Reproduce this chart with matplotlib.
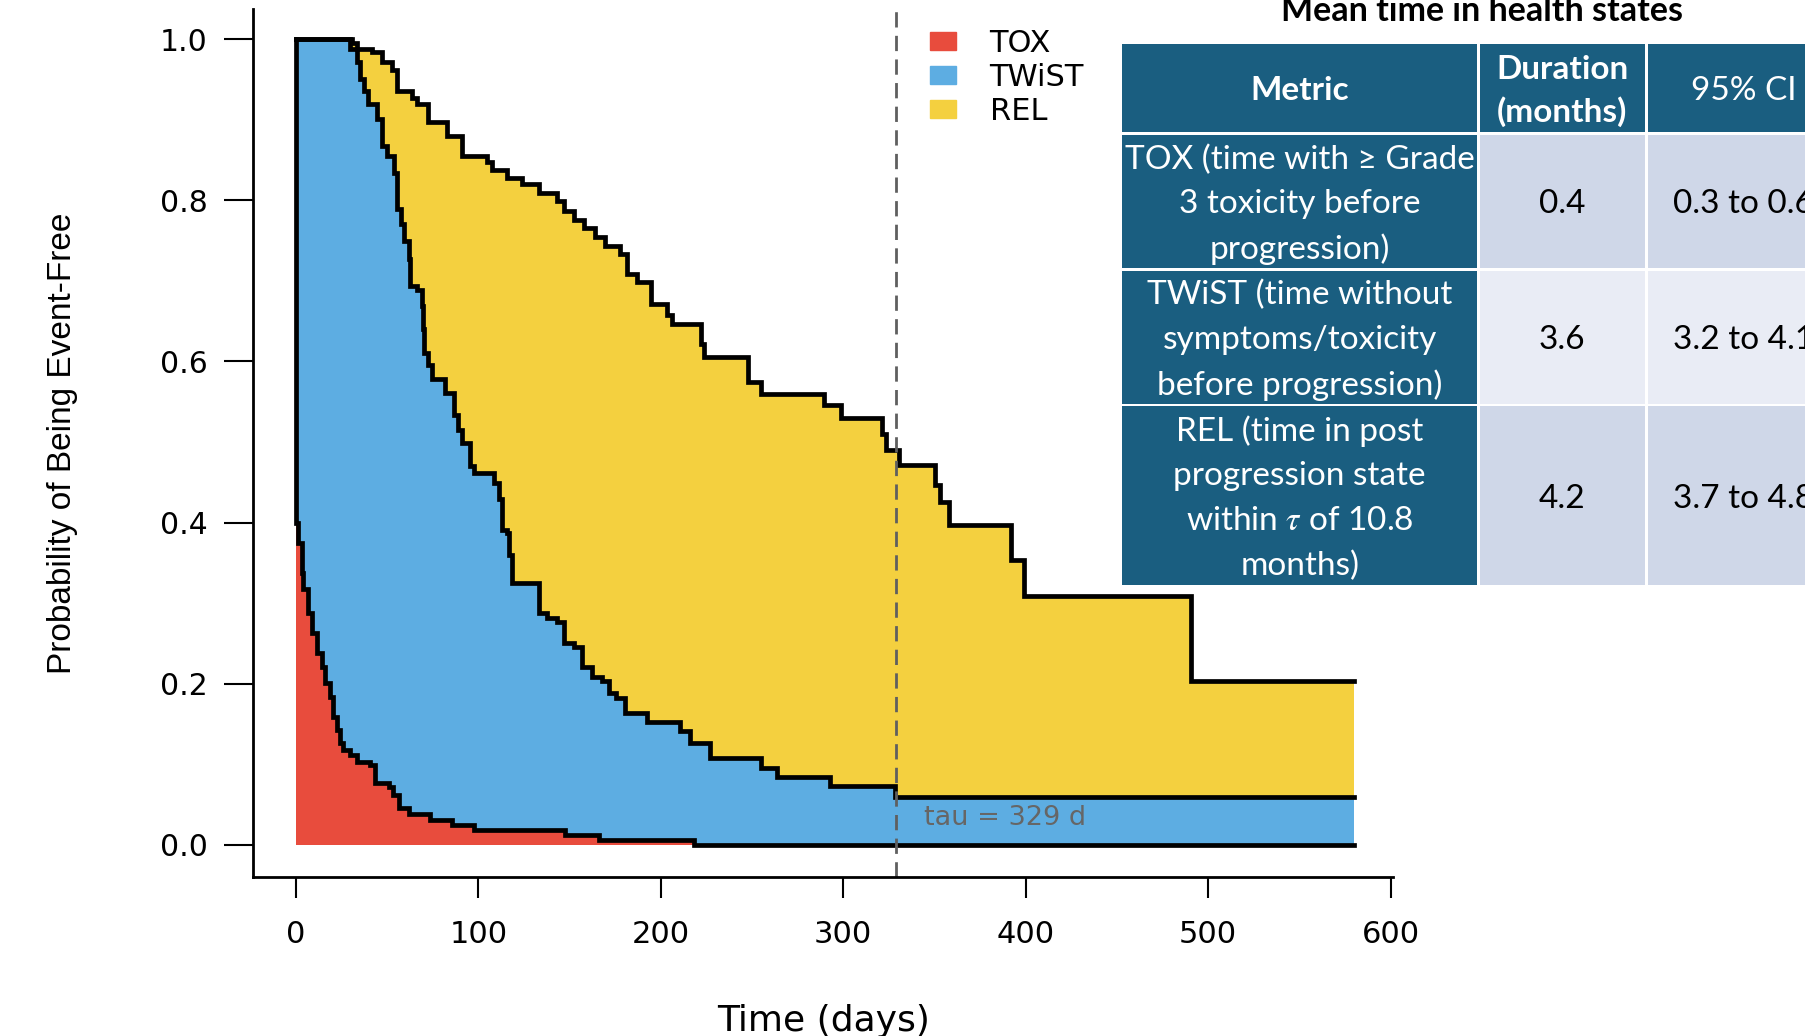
import numpy as np
import matplotlib
matplotlib.use('agg')
import matplotlib.pyplot as plt
from matplotlib.patches import Patch, Rectangle

# Partitioned survival curves (step functions, value holds from each time on)
tox_t = [0, 0, 1.4, 3.3, 4.2, 6.9, 8.8, 11.5, 14.3, 16.1, 18.8, 20.6, 22.5, 24.3,
         26.1, 29.8, 33.5, 40.8, 43.5, 51.0, 53.5, 56.3, 61.8, 73.7, 85.6, 97.4,
         147.7, 166.0, 218.0]
tox_s = [1.0, 0.400, 0.375, 0.338, 0.317, 0.288, 0.263, 0.238, 0.221, 0.201, 0.184,
         0.159, 0.143, 0.126, 0.118, 0.112, 0.103, 0.099, 0.077, 0.072, 0.062, 0.046,
         0.039, 0.031, 0.025, 0.019, 0.012, 0.006, 0.0]

twist_t = [0, 29.8, 33.4, 35.3, 37.5, 39.8, 44.4, 47.2, 49.9, 54.0, 55.4, 57.5, 59.5,
           61.8, 62.7, 66.4, 69.1, 69.6, 70.0, 72.3, 74.6, 81.9, 86.5, 89.0, 91.1,
           95.6, 97.4, 108.4, 111.1, 113.0, 115.7, 117.0, 118.5, 133.1, 137.7, 143.2,
           146.8, 152.3, 156.9, 162.4, 167.9, 171.5, 175.2, 180.6, 192.5, 210.8, 216.0,
           227.0, 254.9, 263.5, 292.9, 328.5]
twist_s = [1.0, 0.988, 0.971, 0.950, 0.935, 0.919, 0.901, 0.867, 0.855, 0.834, 0.789,
           0.770, 0.750, 0.727, 0.694, 0.689, 0.669, 0.640, 0.611, 0.595, 0.578, 0.561,
           0.534, 0.515, 0.499, 0.470, 0.462, 0.449, 0.429, 0.391, 0.387, 0.360, 0.325,
           0.288, 0.282, 0.277, 0.251, 0.246, 0.221, 0.209, 0.203, 0.188, 0.182, 0.164,
           0.153, 0.141, 0.126, 0.108, 0.095, 0.084, 0.073, 0.060]

rel_t = [0, 30.7, 33.4, 41.7, 47.2, 52.7, 55.4, 63.6, 66.4, 72.7, 82.8, 91.1, 104.8,
         107.5, 115.7, 124.0, 133.1, 143.2, 146.8, 152.3, 157.8, 164.2, 169.7, 177.9,
         181.6, 187.1, 194.4, 203.5, 206.3, 222.3, 223.9, 247.6, 254.9, 289.2, 299.0,
         321.0, 323.6, 330.8, 350.4, 352.9, 357.8, 392.0, 398.9, 490.7]
rel_s = [1.0, 0.995, 0.988, 0.984, 0.971, 0.961, 0.936, 0.927, 0.919, 0.897, 0.880,
         0.855, 0.847, 0.837, 0.828, 0.820, 0.809, 0.799, 0.787, 0.776, 0.766, 0.754,
         0.743, 0.733, 0.708, 0.698, 0.671, 0.658, 0.646, 0.621, 0.606, 0.575, 0.560,
         0.546, 0.530, 0.510, 0.490, 0.471, 0.447, 0.426, 0.397, 0.353, 0.309, 0.204]

t_end = 580
tau = 329

legend_labels = ['TOX', 'TWiST', 'REL']
fill_colors = ['#e84c3d', '#5dade2', '#f4d03f']

# table
table_title = 'Mean time in health states'
col_labels = ['Metric', 'Duration\n(months)', '95% CI']
row_labels = ['TOX (time with \u2265 Grade\n3 toxicity before\nprogression)',
              'TWiST (time without\nsymptoms/toxicity\nbefore progression)',
              'REL (time in post\nprogression state\nwithin $\\tau$ of 10.8\nmonths)']
durations = ['0.4', '3.6', '4.2']
ci_text = ['0.3 to 0.6', '3.2 to 4.1', '3.7 to 4.8']

plt.rcParams['mathtext.fontset'] = 'stix'

W, H = 1805, 1036
fig = plt.figure(figsize=(W / 100, H / 100), dpi=100)
ax = fig.add_axes([253.3 / W, 1 - 877.2 / H, (1393 - 253.3) / W, (877.2 - 9.2) / H])


def step_at(times, values, grid):
	idx = np.searchsorted(times, grid, side='right') - 1
	return np.asarray(values)[idx]


grid = np.unique(np.concatenate([tox_t, twist_t, rel_t, [t_end]]))
a = step_at(tox_t, tox_s, grid)
b = step_at(twist_t, twist_s, grid)
c = step_at(rel_t, rel_s, grid)

# cumulative fills, drawn from the top curve down
ax.fill_between(grid, 0, c, step='post', color=fill_colors[2], lw=0)
ax.fill_between(grid, 0, b, step='post', color=fill_colors[1], lw=0)
ax.fill_between(grid, 0, a, step='post', color=fill_colors[0], lw=0)

for tt, ss in [(tox_t, tox_s), (twist_t, twist_s), (rel_t, rel_s)]:
	ax.step(list(tt) + [t_end], list(ss) + [ss[-1]], where='post', color='black',
			lw=3.4, solid_joinstyle='miter')

ax.axvline(tau, color='#5f5f5f', lw=2.0, ls=(0, (5.5, 3.0)))
ax.text(344, 0.033, 'tau = %d d' % tau, color='#666666', fontsize=19.5, va='center')

ax.set_xlim(-23.3, 601.3)
ax.set_ylim(-0.04, 1.037)
ax.set_xticks(np.arange(0, 601, 100))
ax.set_yticks(np.arange(0, 1.01, 0.2))
ax.set_yticklabels(['%.1f' % v for v in np.arange(0, 1.01, 0.2)])
for s in ['top', 'right']:
	ax.spines[s].set_visible(False)
for s in ['left', 'bottom']:
	ax.spines[s].set_linewidth(2.0)
ax.tick_params(axis='y', length=21, width=1.5, pad=12, labelsize=21.5)
ax.tick_params(axis='x', length=15, width=1.5, pad=16, labelsize=22)

fig.text(824 / W, 1 - 1021 / H, 'Time (days)', fontsize=26, ha='center', va='center')
fig.text(63 / W, 1 - 443 / H, 'Probability of Being Event-Free', fontsize=24,
		 rotation=90, ha='center', va='center',
		 family=['Liberation Sans Narrow', 'Liberation Sans'])

handles = [Patch(color=col) for col in fill_colors]
fig.legend(handles, legend_labels, loc='upper left',
		   bbox_to_anchor=(930 / W, 1 - 29 / H), frameon=False, fontsize=22,
		   handlelength=0.85, handleheight=0.55, handletextpad=1.1,
		   labelspacing=0.16, borderpad=0, borderaxespad=0)

# table drawn in figure pixels
teal = '#1a5e80'
band = ['#cfd7e8', '#e9ecf5', '#cfd7e8']
col_x = [(1122.4, 1477.0), (1479.5, 1645.0), (1647.5, 1840.0)]
row_y = [(43.7, 132.4), (134.7, 268.2), (270.5, 404.0), (406.4, 584.8)]
tfont = ['Lato', 'DejaVu Sans']


def cell(x0, x1, y0, y1, color):
	fig.add_artist(Rectangle((x0 / W, 1 - y1 / H), (x1 - x0) / W, (y1 - y0) / H,
							 transform=fig.transFigure, color=color, lw=0))


def cell_text(x0, x1, y0, y1, text, color, weight='normal', step=45.0):
	lines = text.split('\n')
	yc = (y0 + y1) / 2
	for i, line in enumerate(lines):
		yy = yc + (i - (len(lines) - 1) / 2) * step
		fig.text((x0 + x1) / 2 / W, 1 - yy / H, line, ha='center',
				 va='center_baseline', fontsize=24, color=color, weight=weight,
				 family=tfont)


fig.text(1482 / W, 1 - 21 / H, table_title, ha='center', va='baseline', fontsize=24.5,
		 weight='bold', family=tfont)

for j, lab in enumerate(col_labels):
	x0, x1 = col_x[j]
	y0, y1 = row_y[0]
	cell(x0, x1, y0, y1, teal)
	cell_text(x0, x1, y0, y1, lab, 'white', weight='normal' if j == 2 else 'bold',
			  step=42.6)

for i in range(3):
	y0, y1 = row_y[i + 1]
	cell(*col_x[0], y0, y1, teal)
	cell_text(*col_x[0], y0, y1, row_labels[i], 'white')
	cell(*col_x[1], y0, y1, band[i])
	cell_text(*col_x[1], y0, y1, durations[i], 'black')
	cell(*col_x[2], y0, y1, band[i])
	cell_text(*col_x[2], y0, y1, ci_text[i], 'black')

fig.savefig('out.png', dpi=100)
